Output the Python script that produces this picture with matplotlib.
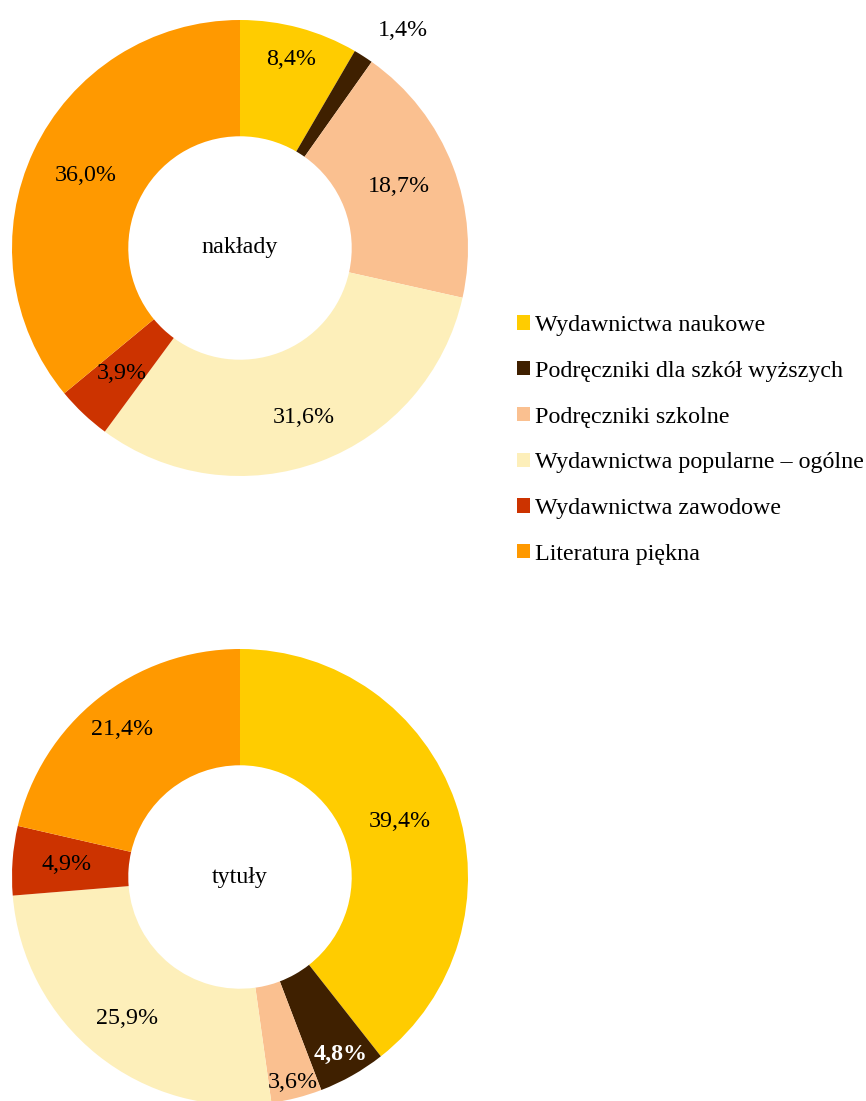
import numpy as np
import matplotlib.pyplot as plt

categories = ['Wydawnictwa naukowe', 'Podręczniki dla szkół wyższych', 'Podręczniki szkolne',
              'Wydawnictwa popularne – ogólne', 'Wydawnictwa zawodowe', 'Literatura piękna']
naklady = [8.4, 1.4, 18.7, 31.6, 3.9, 36.0]
tytuly = [39.4, 4.8, 3.6, 25.9, 4.9, 21.4]
colors = ['#FFCC00', '#3F2000', '#FAC090', '#FDEFBA', '#CC3300', '#FF9900']

plt.rcParams['font.family'] = ['Liberation Serif', 'DejaVu Serif']
FS = 17.3

W, H = 866, 1101
fig = plt.figure(figsize=(W / 100, H / 100), dpi=100)
ax = fig.add_axes([0, 0, 1, 1])


def donut(values, cx, cy, title, label_r, label_dang, bold):
    R = 228
    wedges, _ = ax.pie(values, colors=colors, startangle=90, counterclock=False,
                       radius=R, center=(cx, H - cy),
                       wedgeprops=dict(width=R * 0.51, linewidth=0))
    for i, (w, v) in enumerate(zip(wedges, values)):
        ang = np.deg2rad((w.theta1 + w.theta2) / 2 - label_dang[i])
        x = cx + label_r[i] * np.cos(ang)
        y = H - cy + label_r[i] * np.sin(ang)
        lab = f'{v:.1f}'.replace('.', ',') + '%'
        if i in bold:
            ax.text(x, y, lab, ha='center', va='center', fontsize=FS,
                    color='white', fontweight='bold')
        else:
            ax.text(x, y, lab, ha='center', va='center', fontsize=FS, color='black')
    ax.text(cx, H - cy, title, ha='center', va='center', fontsize=FS)
    return wedges


wedges = donut(naklady, 240, 248, 'nakłady', [195, 272, 170, 181, 172, 171],
               [0, 4, 0, 0, 0, 0], [])
donut(tytuly, 240, 877, 'tytuły', [169, 204, 212, 181, 174, 189],
      [0, 0, 0, 0, 0, 0], [1])

ax.set_xlim(0, W)
ax.set_ylim(0, H)
ax.set_aspect('equal')
ax.axis('off')

fig.legend(wedges, categories, loc='upper left', bbox_to_anchor=(505 / W, 1 - 303 / H),
           frameon=False, fontsize=FS, handlelength=0.54, handleheight=0.54,
           handletextpad=0.2, labelspacing=1.03, borderpad=0)

fig.savefig('out.png', dpi=100, facecolor='white')
